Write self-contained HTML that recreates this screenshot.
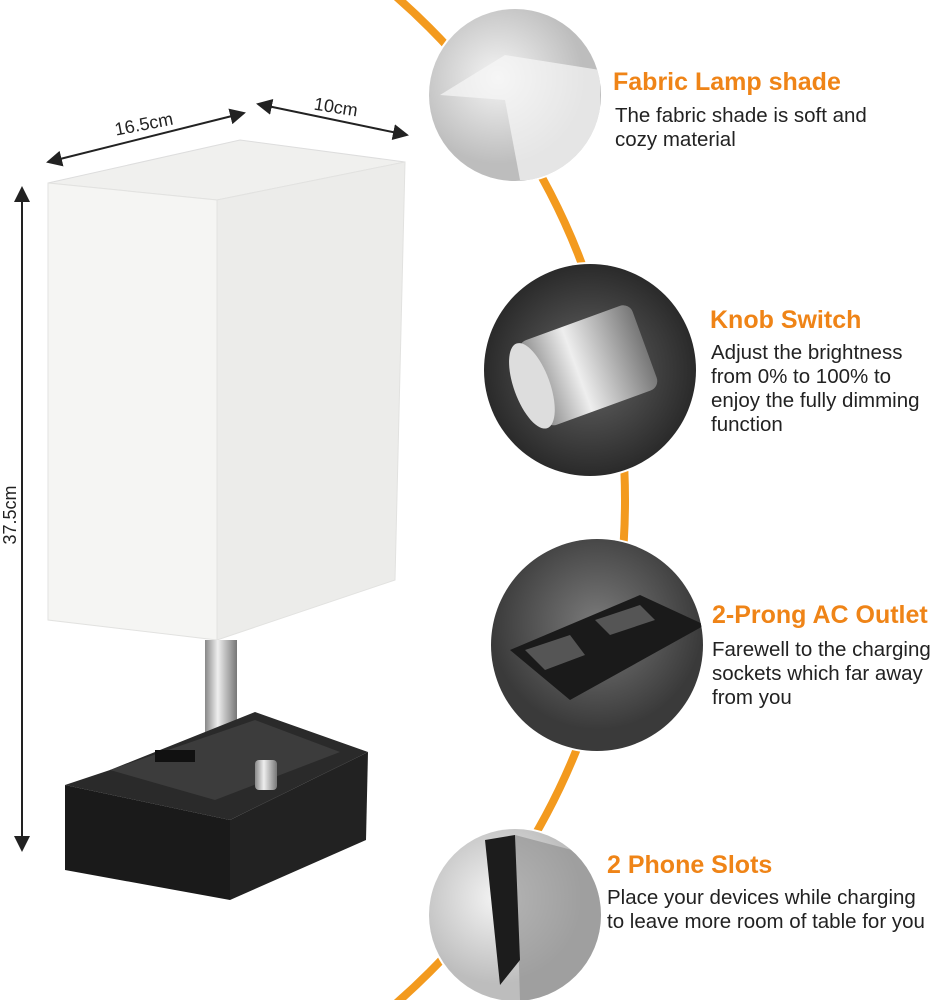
<!DOCTYPE html>
<html><head><style>
html,body{margin:0;width:937px;height:1000px;overflow:hidden}
body{background:#fff;position:relative;font-family:"Liberation Sans",sans-serif}
.t{position:absolute;color:#ef8417;font-weight:bold;font-size:25px;white-space:nowrap}
.b{position:absolute;color:#222;font-size:20.5px;line-height:24px;white-space:nowrap}
</style></head><body>
<svg width="937" height="1000" style="position:absolute;left:0;top:0">
<defs>
<radialGradient id="g1" cx="0.4" cy="0.4"><stop offset="0" stop-color="#f4f4f4"/><stop offset="1" stop-color="#bdbdbd"/></radialGradient>
<radialGradient id="g2" cx="0.5" cy="0.5"><stop offset="0" stop-color="#666"/><stop offset="1" stop-color="#2a2a2a"/></radialGradient>
<radialGradient id="g3" cx="0.5" cy="0.4"><stop offset="0" stop-color="#7a7a7a"/><stop offset="1" stop-color="#3a3a3a"/></radialGradient>
<linearGradient id="cyl" x1="0" x2="1"><stop offset="0" stop-color="#888"/><stop offset="0.4" stop-color="#eee"/><stop offset="1" stop-color="#777"/></linearGradient>
<marker id="a" markerWidth="8" markerHeight="8" refX="7" refY="4" orient="auto-start-reverse"><path d="M0,0 L8,4 L0,8 Z" fill="#222"/></marker>
<clipPath id="c1"><circle cx="515" cy="95" r="86"/></clipPath>
<clipPath id="c2"><circle cx="590" cy="370" r="106"/></clipPath>
<clipPath id="c3"><circle cx="597" cy="645" r="106"/></clipPath>
<clipPath id="c4"><circle cx="515" cy="915" r="86"/></clipPath>
</defs>
<circle cx="-43" cy="500" r="668" fill="none" stroke="#f39a1e" stroke-width="8"/>
<circle cx="515" cy="95" r="88" fill="#fff"/>
<circle cx="515" cy="95" r="86" fill="url(#g1)"/>
<path d="M440,95 L505,55 L600,70 L600,180 L520,180 L505,100 Z" fill="#f7f7f7" opacity="0.7" clip-path="url(#c1)"/>
<circle cx="590" cy="370" r="108" fill="#fff"/>
<circle cx="590" cy="370" r="106" fill="url(#g2)"/>
<g clip-path="url(#c2)"><g transform="rotate(-20 590 370)"><rect x="530" y="320" width="120" height="90" rx="10" fill="url(#cyl)"/><ellipse cx="530" cy="365" rx="18" ry="45" fill="#ddd"/></g></g>
<circle cx="597" cy="645" r="108" fill="#fff"/>
<circle cx="597" cy="645" r="106" fill="url(#g3)"/>
<g clip-path="url(#c3)"><path d="M510,650 L640,595 L705,625 L570,700 Z" fill="#1a1a1a"/>
<path d="M525,650 L570,635 L585,655 L545,670 Z M595,620 L640,605 L655,620 L610,635 Z" fill="#555"/></g>
<circle cx="515" cy="915" r="88" fill="#fff"/>
<circle cx="515" cy="915" r="86" fill="url(#g1)"/>
<g clip-path="url(#c4)"><path d="M515,835 L610,860 L610,1000 L520,1000 Z" fill="#8a8a8a" opacity="0.6"/>
<path d="M485,840 L515,835 L520,960 L500,985 Z" fill="#1c1c1c"/></g>
<line x1="22" y1="188" x2="22" y2="850" stroke="#222" stroke-width="2" marker-start="url(#a)" marker-end="url(#a)"/>
<text transform="translate(16,515) rotate(-90)" text-anchor="middle" font-family="Liberation Sans" font-size="18" fill="#222">37.5cm</text>
<line x1="48" y1="162" x2="244" y2="113" stroke="#222" stroke-width="2" marker-start="url(#a)" marker-end="url(#a)"/>
<text transform="translate(145,130) rotate(-11)" text-anchor="middle" font-family="Liberation Sans" font-size="18" fill="#222">16.5cm</text>
<line x1="258" y1="104" x2="407" y2="135" stroke="#222" stroke-width="2" marker-start="url(#a)" marker-end="url(#a)"/>
<text transform="translate(335,113) rotate(9)" text-anchor="middle" font-family="Liberation Sans" font-size="18" fill="#222">10cm</text>
<polygon points="48,183 240,140 405,162 217,200" fill="#f0f0ee" stroke="#ddd"/>
<polygon points="48,183 217,200 217,640 48,620" fill="#f5f5f3" stroke="#e2e2e0"/>
<polygon points="217,200 405,162 395,580 217,640" fill="#ececea" stroke="#e2e2e0"/>
<rect x="205" y="640" width="32" height="135" fill="url(#cyl)"/>
<polygon points="65,785 110,770 255,712 368,752 230,820" fill="#2a2a2a"/>
<polygon points="110,770 255,720 340,752 215,800" fill="#3c3c3c"/>
<polygon points="65,785 230,820 230,900 65,870" fill="#1a1a1a"/>
<polygon points="230,820 368,752 366,840 230,900" fill="#222"/>
<rect x="155" y="750" width="40" height="12" fill="#111"/>
<rect x="255" y="760" width="22" height="30" rx="4" fill="url(#cyl)"/>
</svg>
<div class="t" style="left:613px;top:68px">Fabric Lamp shade</div>
<div class="b" style="left:615px;top:104px">The fabric shade is soft and<br>cozy material</div>
<div class="t" style="left:710px;top:306px">Knob Switch</div>
<div class="b" style="left:711px;top:341px">Adjust the brightness<br>from 0% to 100% to<br>enjoy the fully dimming<br>function</div>
<div class="t" style="left:712px;top:601px">2-Prong AC Outlet</div>
<div class="b" style="left:712px;top:638px">Farewell to the charging<br>sockets which far away<br>from you</div>
<div class="t" style="left:607px;top:851px">2 Phone Slots</div>
<div class="b" style="left:607px;top:886px">Place your devices while charging<br>to leave more room of table for you</div>
</body></html>
